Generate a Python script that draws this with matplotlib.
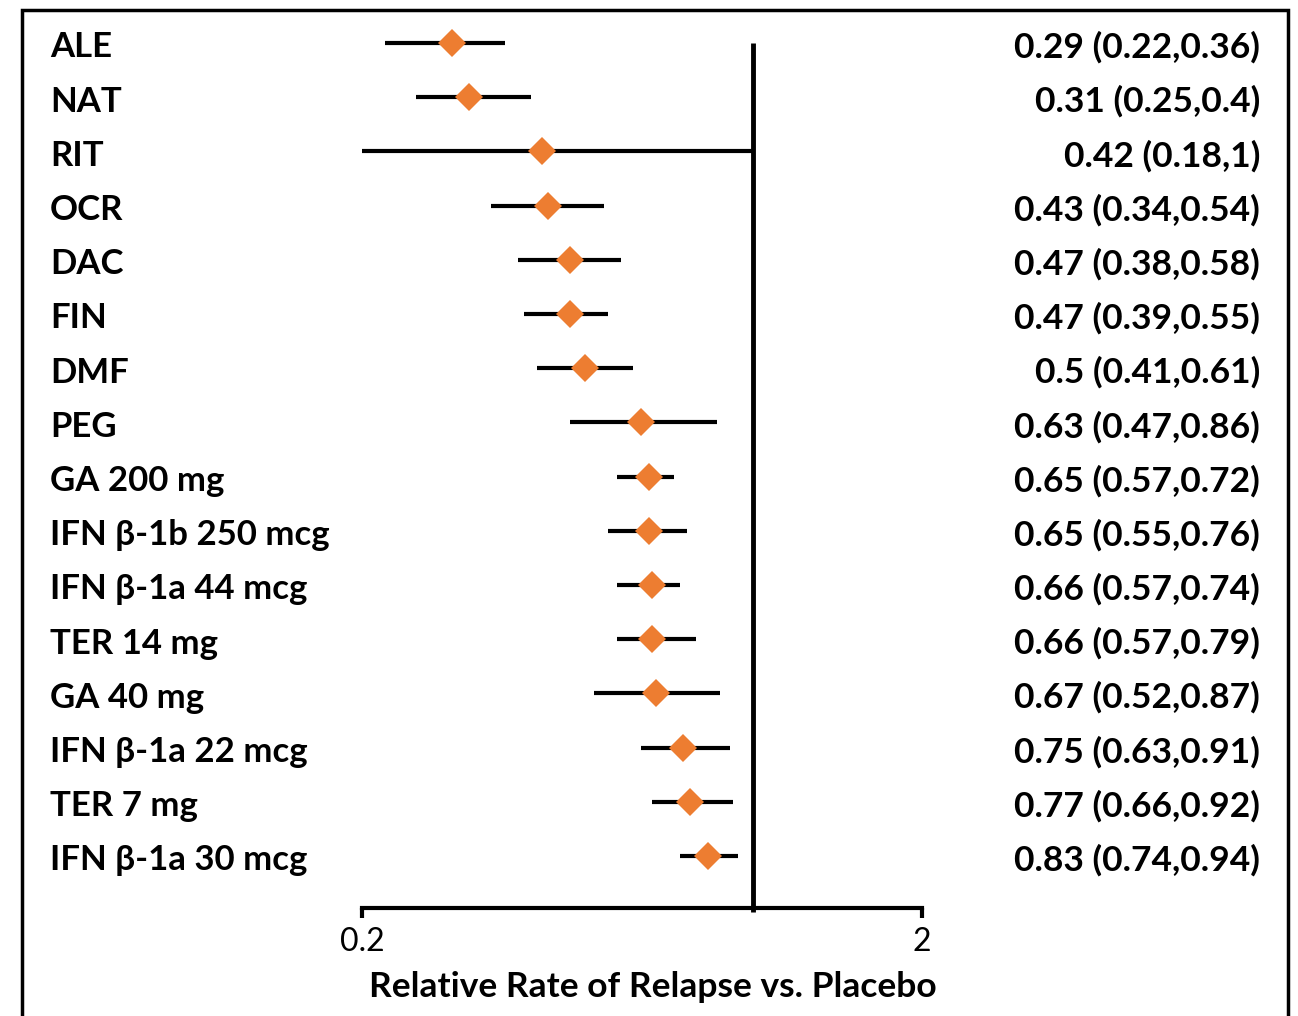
import matplotlib
matplotlib.use("Agg")
import matplotlib.pyplot as plt
import matplotlib.transforms as mtransforms
from matplotlib.patches import Rectangle

plt.rcParams['font.family'] = ['Lato', 'DejaVu Sans']

# Daten aus der Vorlage
treatments = ["ALE", "NAT", "RIT", "OCR", "DAC", "FIN", "DMF", "PEG",
              "GA 200 mg", "IFN β-1b 250 mcg", "IFN β-1a 44 mcg", "TER 14 mg",
              "GA 40 mg", "IFN β-1a 22 mcg", "TER 7 mg", "IFN β-1a 30 mcg"]
rate = [0.29, 0.31, 0.42, 0.43, 0.47, 0.47, 0.5, 0.63,
        0.65, 0.65, 0.66, 0.66, 0.67, 0.75, 0.77, 0.83]
ci_low = [0.22, 0.25, 0.18, 0.34, 0.38, 0.39, 0.41, 0.47,
          0.57, 0.55, 0.57, 0.57, 0.52, 0.63, 0.66, 0.74]
ci_high = [0.36, 0.4, 1, 0.54, 0.58, 0.55, 0.61, 0.86,
           0.72, 0.76, 0.74, 0.79, 0.87, 0.91, 0.92, 0.94]
x_ticks = [0.2, 2]
x_tick_labels = ["0.2", "2"]

W, H = 1298, 1016
fig = plt.figure(figsize=(W / 100, H / 100), dpi=100)
ax = fig.add_axes([362 / W, 1 - 908 / H, (922 - 362) / W, (908 - 16) / H])

rows = list(range(1, len(treatments) + 1))
y_bottom = 16.96

# Konfidenzintervalle + Punktschaetzer
for y, r, lo, hi in zip(rows, rate, ci_low, ci_high):
    ax.plot([lo, hi], [y, y], color="black", lw=3, solid_capstyle="butt", zorder=2)
ax.plot(rate, rows, linestyle="none", marker="D", ms=14.5, color="#ED7D31",
        markeredgewidth=0, zorder=3)

# Referenzlinie bei 1
ax.plot([1, 1], [1, y_bottom + 0.08], color="black", lw=3.5, clip_on=False,
        solid_capstyle="butt", zorder=1)

ax.set_xscale("log")
ax.set_xlim(0.2, 2)
ax.set_ylim(y_bottom, 0.5)
ax.set_xticks(x_ticks)
ax.set_xticklabels(x_tick_labels, fontsize=23)
ax.xaxis.set_minor_locator(matplotlib.ticker.NullLocator())
ax.tick_params(axis="x", direction="out", length=7, width=3, pad=7)
ax.set_yticks([])
for s in ["top", "left", "right"]:
    ax.spines[s].set_visible(False)
ax.spines["bottom"].set_linewidth(3)
ax.set_xlabel("Relative Rate of Relapse vs. Placebo", fontsize=25.5,
              fontweight="bold", labelpad=10)
ax.xaxis.label.set_x(0.52)

# Beschriftungen links und rechts
trans = mtransforms.blended_transform_factory(fig.transFigure, ax.transData)
for y, name, r, lo, hi in zip(rows, treatments, rate, ci_low, ci_high):
    ax.text(50 / W, y + 0.08, name, transform=trans, ha="left", va="center",
            fontsize=25, fontweight="bold")
    ax.text(1260 / W, y + 0.08, f"{r:g} ({lo:g},{hi:g})", transform=trans,
            ha="right", va="center", fontsize=25.5, fontweight="bold")

# Rahmen
fig.patches.append(Rectangle((22 / W, -0.05), (1288 - 22) / W, 1.05 - 10 / H,
                             transform=fig.transFigure, fill=False,
                             edgecolor="black", lw=2.5))

fig.savefig("out.png", dpi=100)
